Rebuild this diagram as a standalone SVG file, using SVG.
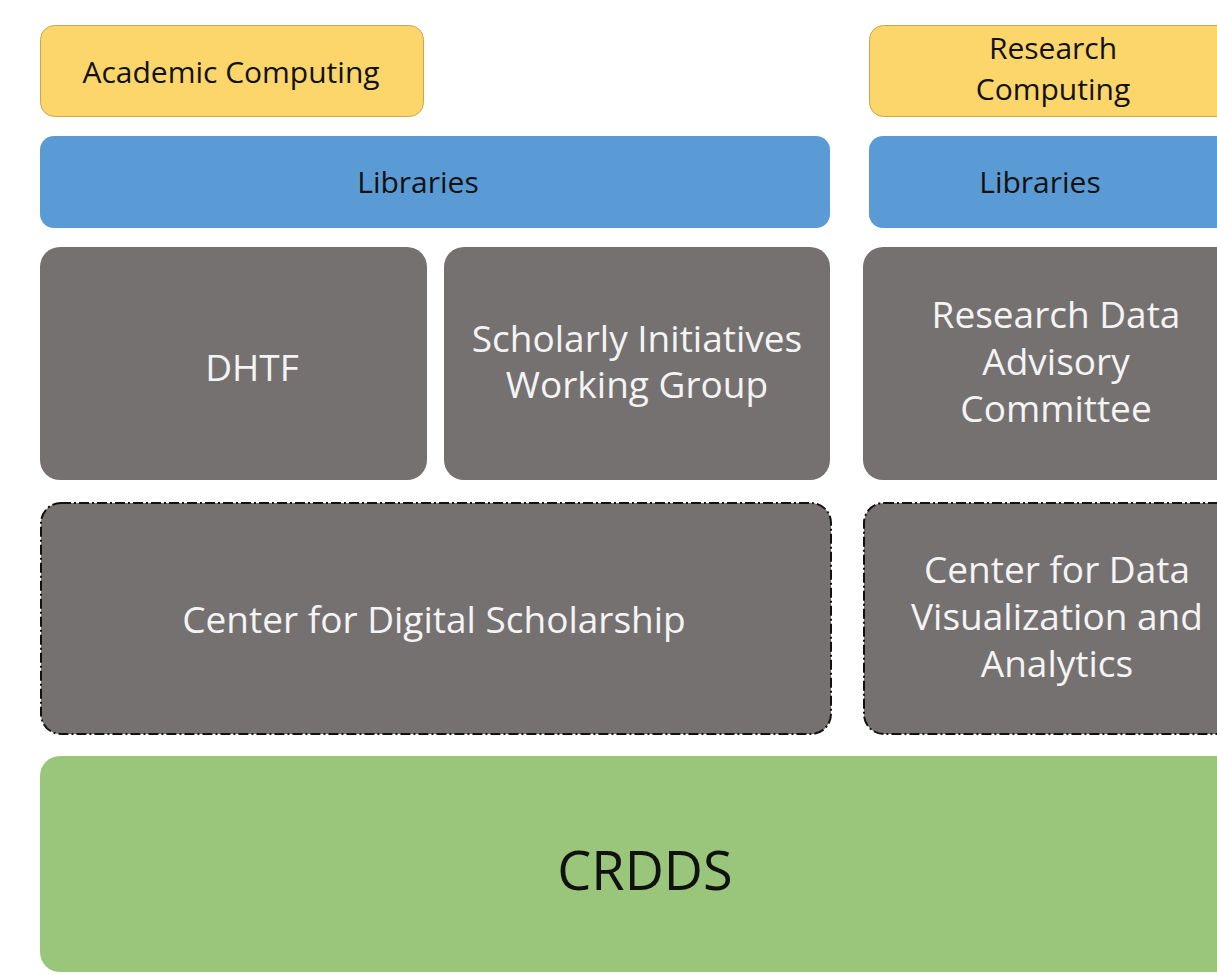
<svg xmlns="http://www.w3.org/2000/svg" width="1217" height="975" viewBox="0 0 1217 975">
<style>
.yel{fill:#FCD66B;stroke:#C9A94F;stroke-width:1}
.blu{fill:#5B9BD5}
.gry{fill:#767171}
.dsh{fill:#767171;stroke:#111;stroke-width:2;stroke-dasharray:10 3 2 3}
.grn{fill:#9AC67B}
text{font-family:"Open Sans","Noto Sans",sans-serif;text-anchor:middle}
.dk{fill:#111}
.wt{fill:#F4F4F4}
.sm{font-size:30px}
.md{font-size:37px}
</style>
<rect width="1217" height="975" fill="#fff"/>
<g id="academic-computing"><rect class="yel" x="40.5" y="25.5" width="383" height="91" rx="14"/><text class="dk sm" x="231" y="83">Academic Computing</text></g>
<g id="research-computing"><rect class="yel" x="869.5" y="25.5" width="380" height="91" rx="14"/><text class="dk sm" x="1053" y="59">Research</text><text class="dk sm" x="1053" y="100">Computing</text></g>
<g id="libraries-left"><rect class="blu" x="40" y="136" width="790" height="92" rx="14"/><text class="dk sm" x="418" y="193">Libraries</text></g>
<g id="libraries-right"><rect class="blu" x="869" y="136" width="380" height="92" rx="14"/><text class="dk sm" x="1040" y="193">Libraries</text></g>
<g id="dhtf"><rect class="gry" x="40" y="247" width="387" height="233" rx="20"/><text class="wt md" x="252" y="381">DHTF</text></g>
<g id="scholarly-initiatives"><rect class="gry" x="444" y="247" width="386" height="233" rx="20"/><text class="wt md" x="637" y="352">Scholarly Initiatives</text><text class="wt md" x="637" y="398">Working Group</text></g>
<g id="research-data-advisory"><rect class="gry" x="863" y="247" width="386" height="233" rx="20"/><text class="wt md" x="1056" y="328">Research Data</text><text class="wt md" x="1056" y="375">Advisory</text><text class="wt md" x="1056" y="422">Committee</text></g>
<g id="center-digital-scholarship"><rect class="dsh" x="41" y="503" width="790" height="231" rx="20"/><text class="wt md" x="434" y="633">Center for Digital Scholarship</text></g>
<g id="center-data-vis"><rect class="dsh" x="864" y="503" width="390" height="231" rx="20"/><text class="wt md" x="1057" y="583">Center for Data</text><text class="wt md" x="1057" y="630">Visualization and</text><text class="wt md" x="1057" y="677">Analytics</text></g>
<g id="crdds"><rect class="grn" x="40" y="756" width="1200" height="216" rx="20"/><text class="dk" x="645" y="890" font-size="54">CRDDS</text></g>
<g id="connectors"></g>
</svg>
